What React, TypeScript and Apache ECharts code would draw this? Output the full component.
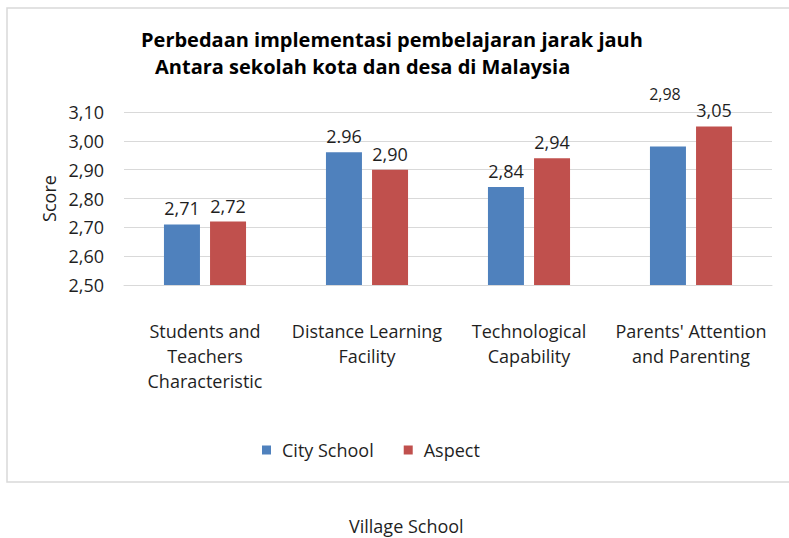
import React, { useEffect, useRef } from "react";
import * as echarts from "echarts";

const titleLine1 = "Perbedaan implementasi pembelajaran jarak jauh";
const titleLine2 = "Antara sekolah kota dan desa di Malaysia";
const bottomNote = "Village School";
const yAxisName = "Score";
const categories = [
  "Students and\nTeachers\nCharacteristic",
  "Distance Learning\nFacility",
  "Technological\nCapability",
  "Parents' Attention\nand Parenting",
];
const seriesNames = ["City School", "Aspect"];
const cityValues = [2.71, 2.96, 2.84, 2.98];
const aspectValues = [2.72, 2.9, 2.94, 3.05];
const yMin = 2.5;
const yMax = 3.1;
const yStep = 0.1;

const FONT = "'Open Sans', Lato, sans-serif";
const BLUE = "#4f81bd";
const RED = "#c0504d";
const TXT = "#1f1f1f";

const comma = (v: number) => v.toFixed(2).replace(".", ",");

export default function App() {
  const ref = useRef<HTMLDivElement>(null);
  useEffect(() => {
    if (!ref.current) return;
    const chart = echarts.init(ref.current, null, { renderer: "svg" });
    const cityData = cityValues.map((v, i) => {
      if (i === 1) return { value: v, label: { formatter: (p: any) => String(p.value) } };
      if (i === 3) return { value: v, label: { fontSize: 16, distance: 45, offset: [-3, 0] } };
      return v;
    });
    const barLabel = {
      show: true,
      position: "top",
      distance: 7,
      fontFamily: FONT,
      fontSize: 18,
      color: TXT,
      formatter: (p: any) => comma(p.value),
    };
    chart.setOption({
      animation: false,
      backgroundColor: "#ffffff",
      textStyle: { fontFamily: FONT },
      title: [
        {
          text: titleLine1,
          left: 141,
          top: 29,
          padding: 0,
          textStyle: { fontFamily: FONT, fontSize: 20, fontWeight: "bold", color: "#000" },
        },
        {
          text: titleLine2,
          left: 155,
          top: 56,
          padding: 0,
          textStyle: { fontFamily: FONT, fontSize: 20, fontWeight: "bold", color: "#000" },
        },
        {
          text: bottomNote,
          left: 349,
          top: 517,
          padding: 0,
          textStyle: { fontFamily: FONT, fontSize: 18, fontWeight: "normal", color: TXT },
        },
      ],
      graphic: [
        {
          type: "rect",
          shape: { x: 7, y: 8, width: 800, height: 474 },
          style: { fill: "none", stroke: "#d9d9d9", lineWidth: 1.5 },
          silent: true,
          z: -1,
        },
      ],
      legend: {
        left: 257,
        top: 436,
        itemWidth: 9,
        itemHeight: 9,
        itemGap: 30,
        icon: "rect",
        textStyle: { fontFamily: FONT, fontSize: 18, color: TXT, padding: [0, 0, 0, 6] },
        data: seriesNames,
      },
      grid: { left: 124, right: 17, top: 112, bottom: 253, containLabel: false },
      xAxis: {
        type: "category",
        data: categories,
        axisLine: { show: true, lineStyle: { color: "#d9d9d9" } },
        axisTick: { show: false },
        axisLabel: {
          interval: 0,
          margin: 33,
          fontFamily: FONT,
          fontSize: 18,
          lineHeight: 25,
          color: TXT,
        },
      },
      yAxis: {
        type: "value",
        min: yMin,
        max: yMax,
        interval: yStep,
        name: yAxisName,
        nameLocation: "middle",
        nameGap: 64,
        nameTextStyle: { fontFamily: FONT, fontSize: 18, color: TXT },
        axisLine: { show: false },
        axisTick: { show: false },
        splitLine: { lineStyle: { color: "#d9d9d9" } },
        axisLabel: {
          margin: 20,
          fontFamily: FONT,
          fontSize: 18,
          color: TXT,
          formatter: (v: number) => comma(v),
        },
      },
      series: [
        {
          name: seriesNames[0],
          type: "bar",
          data: cityData,
          barWidth: 36,
          barGap: "28%",
          itemStyle: { color: BLUE },
          label: barLabel,
        },
        {
          name: seriesNames[1],
          type: "bar",
          data: aspectValues,
          barWidth: 36,
          itemStyle: { color: RED },
          label: barLabel,
        },
      ],
    });
    return () => chart.dispose();
  }, []);
  return (
    <div
      ref={ref}
      style={{ position: "absolute", left: 0, top: 0, width: 789, height: 538 }}
    />
  );
}
